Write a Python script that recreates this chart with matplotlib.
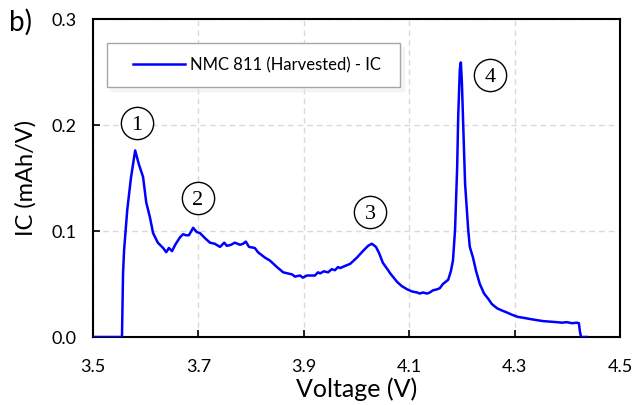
import matplotlib
matplotlib.use("Agg")
import matplotlib.pyplot as plt
from matplotlib.lines import Line2D
from matplotlib.legend_handler import HandlerLine2D

plt.rcParams['font.family'] = ['Lato', 'DejaVu Sans']

voltage = [3.500, 3.555, 3.557, 3.559, 3.565, 3.572, 3.580, 3.587, 3.595, 3.601,
           3.608, 3.614, 3.623, 3.633, 3.639, 3.644, 3.650, 3.656, 3.665, 3.671,
           3.676, 3.682, 3.690, 3.697, 3.703, 3.713, 3.722, 3.731, 3.741, 3.749,
           3.754, 3.762, 3.769, 3.779, 3.785, 3.790, 3.796, 3.807, 3.813, 3.826,
           3.836, 3.849, 3.861, 3.878, 3.883, 3.893, 3.898, 3.906, 3.912, 3.921,
           3.927, 3.931, 3.938, 3.946, 3.953, 3.959, 3.965, 3.969, 3.978, 3.988,
           4.001, 4.012, 4.022, 4.029, 4.037, 4.043, 4.050, 4.060, 4.064, 4.077,
           4.086, 4.096, 4.105, 4.115, 4.120, 4.126, 4.134, 4.139, 4.145, 4.153,
           4.158, 4.164, 4.174, 4.179, 4.183, 4.187, 4.191, 4.193, 4.196, 4.198,
           4.200, 4.202, 4.206, 4.212, 4.215, 4.221, 4.227, 4.234, 4.242, 4.250,
           4.257, 4.267, 4.276, 4.286, 4.295, 4.306, 4.318, 4.329, 4.341, 4.354,
           4.367, 4.380, 4.390, 4.399, 4.409, 4.418, 4.422, 4.424, 4.426, 4.437]
ic = [0.000, 0.000, 0.060, 0.082, 0.120, 0.150, 0.176, 0.163, 0.151, 0.127,
      0.113, 0.098, 0.089, 0.084, 0.080, 0.084, 0.081, 0.087, 0.094, 0.097,
      0.096, 0.096, 0.103, 0.099, 0.098, 0.093, 0.089, 0.088, 0.085, 0.089,
      0.086, 0.087, 0.089, 0.087, 0.088, 0.090, 0.085, 0.084, 0.080, 0.075,
      0.072, 0.066, 0.061, 0.059, 0.057, 0.058, 0.056, 0.058, 0.058, 0.058,
      0.061, 0.060, 0.062, 0.061, 0.064, 0.063, 0.066, 0.065, 0.067, 0.069,
      0.075, 0.081, 0.086, 0.088, 0.085, 0.079, 0.070, 0.063, 0.060, 0.052,
      0.048, 0.045, 0.043, 0.042, 0.041, 0.042, 0.041, 0.042, 0.044, 0.045,
      0.046, 0.050, 0.054, 0.062, 0.072, 0.101, 0.160, 0.208, 0.252, 0.259,
      0.240, 0.208, 0.145, 0.101, 0.085, 0.075, 0.062, 0.050, 0.041, 0.036,
      0.031, 0.027, 0.025, 0.023, 0.021, 0.019, 0.018, 0.017, 0.016, 0.015,
      0.0145, 0.014, 0.0135, 0.014, 0.013, 0.0135, 0.013, 0.005, 0.000, 0.000]

x_ticks = [3.5, 3.7, 3.9, 4.1, 4.3, 4.5]
x_ticklabels = ['3.5', '3.7', '3.9', '4.1', '4.3', '4.5']
y_ticks = [0.0, 0.1, 0.2, 0.3]
y_ticklabels = ['0.0', '0.1', '0.2', '0.3']

peak_labels = ['1', '2', '3', '4']
peak_x = [3.583, 3.699, 4.026, 4.253]
peak_y = [0.202, 0.131, 0.118, 0.247]

fig = plt.figure(figsize=(6.35, 4.05), dpi=100)
ax = fig.add_axes([93/635, 1 - 337/405, (620 - 93)/635, (337 - 19)/405])

ax.plot(voltage, ic, color='#0000ff', lw=1.8, label='NMC 811 (Harvested) - IC', zorder=3)

ax.set_xlim(3.5, 4.5)
ax.set_ylim(0, 0.3)
ax.set_xticks(x_ticks)
ax.set_xticklabels(x_ticklabels)
ax.set_yticks(y_ticks)
ax.set_yticklabels(y_ticklabels)
ax.tick_params(axis='both', direction='in', length=5, width=1.2, labelsize=13,
               colors='black')
ax.tick_params(axis='x', pad=16)
ax.tick_params(axis='y', pad=12)
ax.grid(True, color='#d9d9d9', lw=1.0, ls=(0, (4, 3)))
ax.set_axisbelow(True)
for s in ax.spines.values():
    s.set_linewidth(1.5)
    s.set_color('black')

ax.set_xlabel('Voltage (V)', fontsize=18)
ax.xaxis.set_label_coords(0.5, (337 - 397) / 318)
ax.xaxis.label.set_va('baseline')
ax.set_ylabel('IC (mAh/V)', fontsize=17)
ax.yaxis.set_label_coords((26 - 93) / 527, 0.5)
ax.yaxis.label.set_va('center')

for lab, px, py in zip(peak_labels, peak_x, peak_y):
    ax.scatter([px], [py], s=540, facecolor='white', edgecolor='black',
               linewidth=1.0, zorder=4)
    ax.text(px, py, lab, family='Liberation Serif', fontsize=16, ha='center',
            va='center_baseline', zorder=5)

leg = ax.legend(loc='upper left', bbox_to_anchor=(0.027, 0.925, 0.556, 0.0),
                mode='expand', borderaxespad=0, fontsize=12,
                handlelength=3.83, handletextpad=0.3, borderpad=0.85,
                handler_map={Line2D: HandlerLine2D(xpad=0.72)},
                fancybox=False, framealpha=1, edgecolor='#a6a6a6',
                shadow={'color': '#ececec', 'ox': 3, 'oy': -3})
leg.get_frame().set_linewidth(1.0)

fig.text(9/635, 1 - 22/405, 'b)', fontsize=20, va='center', ha='left')

fig.savefig('out.png', dpi=100)
